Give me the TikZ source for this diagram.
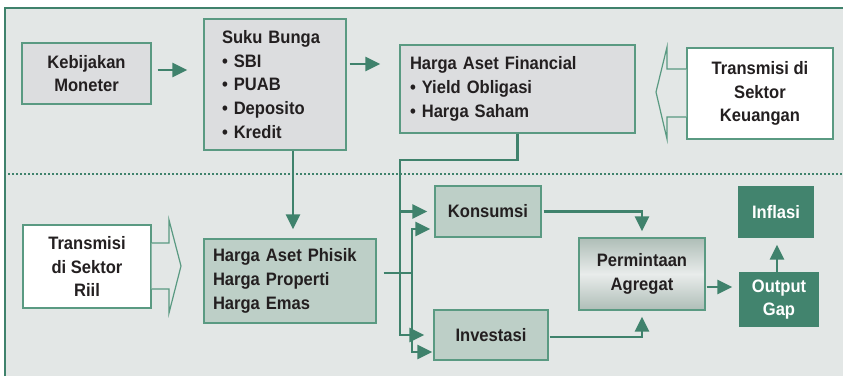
\documentclass[tikz,border=0pt]{standalone}
\usepackage{fontspec}
\setmainfont{Liberation Sans}[FakeStretch=0.92]
\usetikzlibrary{arrows.meta,calc}
\definecolor{lnk}{HTML}{3F826C}
\definecolor{boxline}{HTML}{5A9A82}
\definecolor{bg}{HTML}{E3E7E6}
\definecolor{boxgray}{HTML}{DCDDDF}
\definecolor{sage}{HTML}{BDCFC7}
\definecolor{darkfill}{HTML}{42846E}
\definecolor{ink}{HTML}{231F20}
\begin{document}
\begin{tikzpicture}[x=1pt,y=-1pt,
  base/.style={draw=boxline, line width=1.3pt, inner sep=0pt,
    font=\bfseries\fontsize{18}{23.8}\selectfont, text=ink, align=center},
  graybox/.style={base, fill=boxgray},
  sagebox/.style={base, fill=sage},
  whitebox/.style={base, fill=white},
  darkbox/.style={base, draw=darkfill, fill=darkfill, text=white},
  gradbox/.style={base, top color=sage!90!black!95, bottom color=sage!90!black!95, middle color=bg!80!white},
  conn/.style={draw=lnk, line width=2.4pt},
  arr/.style={conn, -{Triangle[length=15pt,width=14pt]}},
  hollow/.style={draw=boxline, line width=1.2pt, fill=bg, line join=miter},
  sep/.style={draw=lnk, line width=2pt, dash pattern=on 2pt off 2pt},
  frame/.style={draw=lnk, line width=2.4pt},
]
\useasboundingbox (0,0) rectangle (843,376);
% panel background and its frame
\fill[white] (0,0) rectangle (843,376);
\fill[bg] (5,8) rectangle (843,376);
\draw[frame] (5,376) -- (5,8) -- (843,8);
% line between financial and real sector
\draw[sep] (8,174) -- (843,174);

% boxes
\node[graybox, minimum width=129pt, minimum height=61pt] (keb) at (86.5,73.5)
  {Kebijakan\\Moneter};
\node[graybox, text width=106pt, inner xsep=18pt, minimum height=131pt, align=left] (suku) at (275,84.5)
  {Suku Bunga\\• SBI\\• PUAB\\• Deposito\\• Kredit};
\node[graybox, text width=215pt, inner xsep=10pt, minimum height=88pt, align=left] (fin) at (517.5,89)
  {Harga Aset Financial\\• Yield Obligasi\\• Harga Saham};
\node[whitebox, minimum width=146pt, minimum height=91pt] (keu) at (760,93.5)
  {Transmisi di\\Sektor\\Keuangan};
\node[whitebox, minimum width=128pt, minimum height=83pt] (riil) at (87,266.5)
  {Transmisi\\di Sektor\\Riil};
\node[sagebox, text width=154pt, inner xsep=9pt, minimum height=84pt, align=left] (phisik) at (290,281)
  {Harga Aset Phisik\\Harga Properti\\Harga Emas};
\node[sagebox, minimum width=106pt, minimum height=51pt] (kons) at (488,211.5) {Konsumsi};
\node[sagebox, minimum width=114pt, minimum height=50pt] (inv) at (491,335) {Investasi};
\node[gradbox, minimum width=126pt, minimum height=72pt] (perm) at (642,274)
  {Permintaan\\Agregat};
\node[darkbox, minimum width=74pt, minimum height=50pt] (infl) at (776,212) {Inflasi};
\node[darkbox, minimum width=78pt, minimum height=53pt] (gap) at (779,299.5) {Output\\Gap};

% hollow block arrows of the two transmission labels
\draw[hollow] (keu.west |- 0,69) -- (667,69) -- (667,47) -- (656,92) -- (667,139)
  -- (667,117) -- (keu.west |- 0,117);
\draw[hollow] (riil.east |- 0,243) -- (169,243) -- (169,220) -- (181,266) -- (169,313)
  -- (169,289) -- (riil.east |- 0,289);

% upper chain
\draw[arr, shorten <=6pt, shorten >=16pt] ([yshift=3.5pt]keb.east) -- ([yshift=3.5pt]keb.east -| suku.west);
\draw[arr, shorten <=3pt, shorten >=19pt] ([yshift=20.5pt]suku.east) -- ([yshift=20.5pt]suku.east -| fin.west);
\draw[arr, shorten >=9pt] ([xshift=18pt]suku.south) -- ([xshift=18pt]suku.south |- phisik.north);

% financial asset prices feed consumption and investment
\coordinate (busA) at (400,160);
\draw[arr, shorten >=9pt] (fin.south) |- (busA) |- (inv.west);
\draw[arr, shorten >=7pt] (busA |- kons.west) -- (kons.west);

% physical asset prices feed consumption and investment
\coordinate (busB) at (412,273);
\draw[conn, shorten <=7pt] (phisik.east |- busB) -- (busB);
\draw[arr, shorten >=4pt] (busB) |- ([yshift=-17.5pt]kons.west);
\draw[arr, shorten >=1pt] (busB) |- ([yshift=-17pt]inv.west);

% aggregate demand, output gap, inflation
\draw[arr, shorten <=2pt, shorten >=6pt] (kons.east) -| (perm.north);
\draw[arr, shorten <=1pt, shorten >=6pt] ([yshift=-2pt]inv.east) -| (perm.south);
\draw[arr, shorten <=1pt, shorten >=7pt] ([yshift=-13pt]perm.east) -- ([yshift=-13pt]perm.east -| gap.west);
\draw[arr, shorten >=7pt] ([xshift=-2pt]gap.north) -- ([xshift=-2pt]gap.north |- infl.south);
\end{tikzpicture}
\end{document}
